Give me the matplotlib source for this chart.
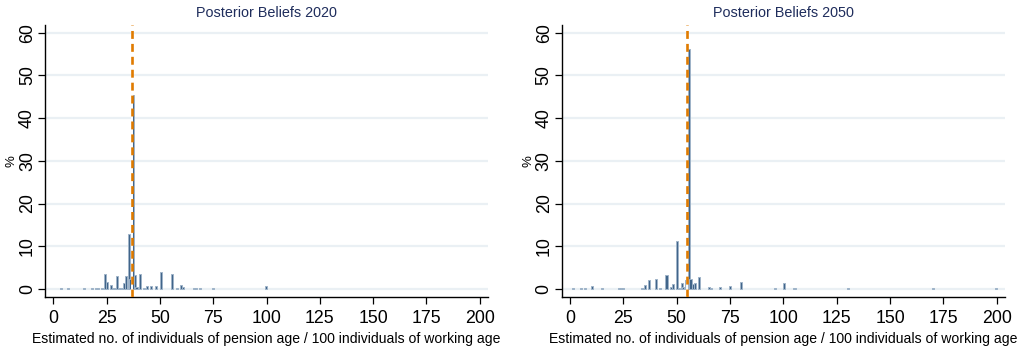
import matplotlib
matplotlib.use("Agg")
import matplotlib.pyplot as plt

plt.rcParams['font.family'] = ['Liberation Sans', 'DejaVu Sans']

# ---- data: bar centres (value) and percent ----
x2020 = [3.5, 7, 14.5, 18, 20, 21, 23, 24.3, 25.2, 27, 28, 29, 30, 31, 32, 33, 34, 35.3, 36, 37.2, 38.2, 39, 40.5,
         42.5, 44, 46, 48, 50.5, 55.8, 58, 60, 61, 66, 67, 69, 75, 99.6]
p2020 = [0.2, 0.2, 0.2, 0.2, 0.25, 0.3, 0.3, 3.5, 1.7, 1.0, 0.3, 0.3, 3.1, 0.3, 0.3, 1.4, 3.0, 12.9, 2.4, 45.4, 3.2, 0.5, 3.5,
         0.3, 0.6, 0.6, 0.6, 3.9, 3.4, 0.2, 0.9, 0.4, 0.3, 0.3, 0.2, 0.2, 0.8]
line2020 = 36.9

x2050 = [1.5, 5, 7, 10.5, 15, 23, 24, 25, 34, 35.2, 37, 40.3, 42, 45.2, 47.5, 48.2, 50.3, 51, 52.5, 53, 54.3, 55.6,
         56.5, 57.5, 58.5, 60.4, 65.3, 66, 70.3, 75.1, 80.3, 96, 100.4, 105.2, 130.4, 170.2, 199.5]
p2050 = [0.2, 0.2, 0.2, 0.7, 0.2, 0.3, 0.3, 0.3, 0.3, 1.0, 2.1, 2.4, 0.3, 3.2, 0.5, 1.2, 11.2, 0.3, 1.4, 0.5, 2.2, 56.1,
         2.3, 1.2, 1.4, 2.7, 0.5, 0.2, 0.5, 0.6, 1.7, 0.3, 1.4, 0.3, 0.3, 0.3, 0.3]
line2050 = 54.9

titles = ["Posterior Beliefs 2020", "Posterior Beliefs 2050"]
xlabel = "Estimated no. of individuals of pension age / 100 individuals of working age"
xticks = [0, 25, 50, 75, 100, 125, 150, 175, 200]
yticks = [0, 10, 20, 30, 40, 50, 60]

fig = plt.figure(figsize=(10.24, 3.48), dpi=100)
W, H = 1024, 348
axes_px = [(45, 488), (561.7, 1005)]
top_px, bot_px = 25, 297.3

data = [(x2020, p2020, line2020), (x2050, p2050, line2050)]
for (l, r), (xs, ps, vl), title in zip(axes_px, data, titles):
    ax = fig.add_axes([l / W, 1 - bot_px / H, (r - l) / W, (bot_px - top_px) / H])
    ax.set_xlim(-3.9, 203.9)
    ax.set_ylim(-1.95, 61.8)
    for yt in yticks:
        ax.axhline(yt, color='#eaf0f4', lw=1.6, zorder=0)
    ax.bar(xs, ps, width=1.0, color='#41658a', edgecolor='#9fb4c9', linewidth=0.7, zorder=2)
    ax.axvline(vl, color='white', lw=1.4, zorder=3)
    ax.axvline(vl, color='#e07b00', lw=1.9, linestyle=(0, (3.0, 1.9)), zorder=4)
    ax.set_xticks(xticks)
    ax.set_yticks(yticks)
    ax.tick_params(axis='both', labelsize=12.8, length=5, width=0.9, color='black', direction='out')
    ax.tick_params(axis='x', pad=4)
    ax.tick_params(axis='y', pad=1.5)
    for lab in ax.get_yticklabels():
        lab.set_rotation(90)
        lab.set_va('center')
    for s in ['top', 'right']:
        ax.spines[s].set_visible(False)
    for s in ['left', 'bottom']:
        ax.spines[s].set_linewidth(1.0)
        ax.spines[s].set_color('black')
    ax.set_title(title, fontsize=10.4, color='#1f2d5c', pad=6)
    ax.set_ylabel('%', fontsize=9.5)
    ax.yaxis.set_label_coords(-0.062, 0.5)
    fig.text((l + r) / 2 / W, 1 - 339 / H, xlabel, fontsize=10.1, ha='center', va='center')

fig.savefig("out.png", dpi=100)
